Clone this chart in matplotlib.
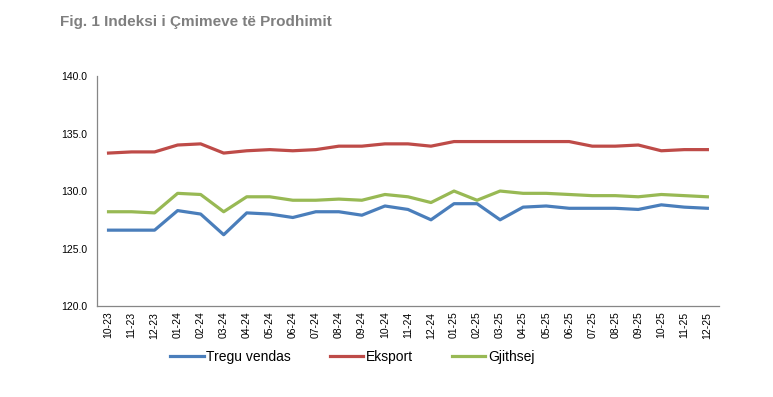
#!/usr/bin/env python3

import matplotlib
matplotlib.use("Agg")
import matplotlib.pyplot as plt


MONTHS = [
    "10-23", "11-23", "12-23",
    "01-24", "02-24", "03-24", "04-24", "05-24", "06-24",
    "07-24", "08-24", "09-24", "10-24", "11-24", "12-24",
    "01-25", "02-25", "03-25", "04-25", "05-25", "06-25",
    "07-25", "08-25", "09-25", "10-25", "11-25", "12-25",
]

TREGU_VENDAS = [
    126.6, 126.6, 126.6,
    128.3, 128.0, 126.2, 128.1, 128.0, 127.7,
    128.2, 128.2, 127.9, 128.7, 128.4, 127.5,
    128.9, 128.9, 127.5, 128.6, 128.7, 128.5,
    128.5, 128.5, 128.4, 128.8, 128.6, 128.5,
]

EKSPORT = [
    133.3, 133.4, 133.4,
    134.0, 134.1, 133.3, 133.5, 133.6, 133.5,
    133.6, 133.9, 133.9, 134.1, 134.1, 133.9,
    134.3, 134.3, 134.3, 134.3, 134.3, 134.3,
    133.9, 133.9, 134.0, 133.5, 133.6, 133.6,
]

GJITHSEJ = [
    128.2, 128.2, 128.1,
    129.8, 129.7, 128.2, 129.5, 129.5, 129.2,
    129.2, 129.3, 129.2, 129.7, 129.5, 129.0,
    130.0, 129.2, 130.0, 129.8, 129.8, 129.7,
    129.6, 129.6, 129.5, 129.7, 129.6, 129.5,
]

SERIES = [
    ("Tregu vendas", TREGU_VENDAS, "#4A7EBB"),
    ("Eksport", EKSPORT, "#BE4B48"),
    ("Gjithsej", GJITHSEJ, "#98B954"),
]


def main():
    plt.rcParams["font.family"] = ["Liberation Sans", "DejaVu Sans"]

    fig = plt.figure(figsize=(7.73, 3.97), dpi=100)
    ax = fig.add_axes([0.1255, 0.229, 0.8045, 0.5796])

    x = list(range(len(MONTHS)))
    for name, values, color in SERIES:
        ax.plot(x, values, color=color, linewidth=2.3, label=name)

    ax.set_xlim(-0.5, len(MONTHS) - 0.5)
    ax.set_ylim(120, 140)
    ax.set_yticks([120, 125, 130, 135, 140])
    ax.set_yticklabels(["%.1f" % v for v in [120, 125, 130, 135, 140]], fontsize=7.5)
    ax.set_xticks(x)
    ax.set_xticklabels(MONTHS, rotation=90, fontsize=7.5)
    ax.tick_params(axis="y", length=0, pad=7, colors="black")
    ax.tick_params(axis="x", length=0, pad=4, colors="black")

    for side in ("top", "right"):
        ax.spines[side].set_visible(False)
    for side in ("left", "bottom"):
        ax.spines[side].set_color("#868686")
        ax.spines[side].set_linewidth(0.9)

    fig.legend(loc="center", bbox_to_anchor=(0.456, 0.101), ncol=3,
               frameon=False, fontsize=10, handlelength=2.4, handletextpad=0.2,
               columnspacing=2.8)

    fig.text(0.078, 0.945, "Fig. 1 Indeksi i Çmimeve të Prodhimit",
             fontsize=11, fontweight="bold", color="#7F7F7F",
             ha="left", va="center")

    fig.savefig("out.png", dpi=100)


if __name__ == "__main__":
    main()
